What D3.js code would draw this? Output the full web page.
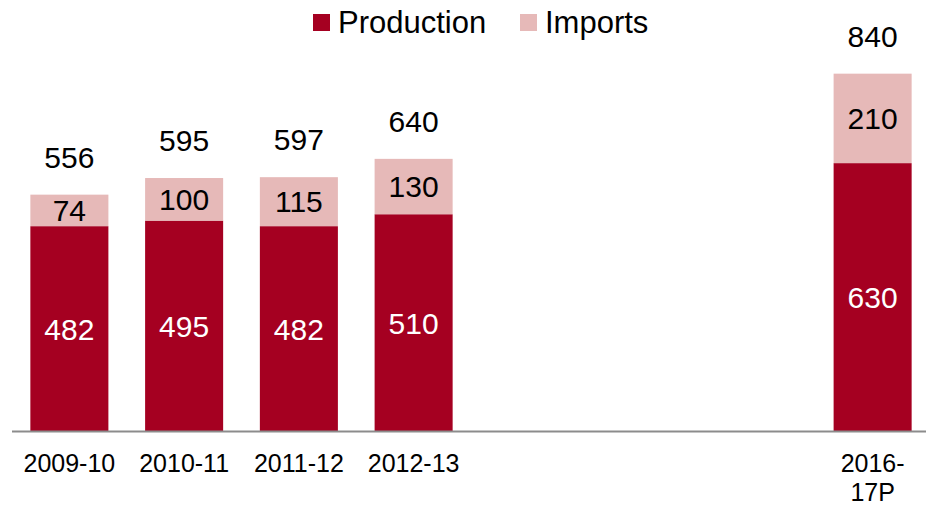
<!DOCTYPE html>
<html>
<head>
<meta charset="utf-8">
<script src="https://cdn.jsdelivr.net/npm/d3@7"></script>
<style>
  body { margin: 0; background: #fff; }
  svg { display: block; font-family: "Liberation Sans", Arial, sans-serif; }
</style>
</head>
<body>
<svg class="chart"></svg>
<script>
// categories (the three middle years are empty slots on the axis)
var categories = ["2009-10", "2010-11", "2011-12", "2012-13", "2013-14", "2014-15", "2015-16", "2016-17P"];
var tickLabels = [["2009-10"], ["2010-11"], ["2011-12"], ["2012-13"], [], [], [], ["2016-", "17P"]];
var production = [482, 495, 482, 510, null, null, null, 630];
var imports = [74, 100, 115, 130, null, null, null, 210];
var totals = [556, 595, 597, 640, null, null, null, 840];

var seriesNames = ["Production", "Imports"];
var colors = {Production: "#A50021", Imports: "#E6B9B8"};

var width = 926, height = 505;

var svg = d3.select(".chart")
    .attr("width", width)
    .attr("height", height);

var x = d3.scaleBand()
    .domain(categories)
    .range([12, 930])
    .paddingInner(0.32)
    .paddingOuter(0.16);

var y = d3.scaleLinear()
    .domain([0, 1000])
    .range([431.5, 5.5]);

// rows for the stack, skipping empty slots
var rows = categories.map(function(c, i) {
    return {cat: c, Production: production[i], Imports: imports[i], total: totals[i]};
}).filter(function(d) { return d.Production != null; });

var stack = d3.stack().keys(seriesNames);
var layers = stack(rows);

var layer = svg.selectAll(".layer")
    .data(layers).enter().append("g")
    .attr("class", "layer")
    .attr("fill", function(d) { return colors[d.key]; });

layer.selectAll("rect")
    .data(function(d) { return d; }).enter().append("rect")
    .attr("x", function(d) { return x(d.data.cat); })
    .attr("width", x.bandwidth())
    .attr("y", function(d) { return y(d[1]); })
    .attr("height", function(d) { return y(d[0]) - y(d[1]); });

// values inside the segments
layer.selectAll("text")
    .data(function(d) { return d.map(function(s) { s.key = d.key; return s; }); })
    .enter().append("text")
    .attr("x", function(d) { return x(d.data.cat) + x.bandwidth() / 2; })
    .attr("y", function(d) { return (y(d[0]) + y(d[1])) / 2; })
    .attr("dy", "0.36em")
    .attr("text-anchor", "middle")
    .attr("font-size", 30)
    .attr("fill", function(d) { return d.key === "Production" ? "#fff" : "#000"; })
    .text(function(d) { return d.data[d.key]; });

// totals above
svg.selectAll(".total")
    .data(rows).enter().append("text")
    .attr("class", "total")
    .attr("x", function(d) { return x(d.cat) + x.bandwidth() / 2; })
    .attr("y", function(d) { return y(d.total) - 27; })
    .attr("text-anchor", "middle")
    .attr("font-size", 30)
    .attr("fill", "#000")
    .text(function(d) { return d.total; });

// x axis
var xAxis = d3.axisBottom(x).tickSize(0).tickFormat("");
var gx = svg.append("g")
    .attr("transform", "translate(0," + y(0) + ")")
    .call(xAxis);
gx.select(".domain").attr("stroke", "#8c8c8c").attr("stroke-width", 2)
    .attr("d", "M12,0H926");

gx.selectAll(".tick").each(function(c, i) {
    var t = d3.select(this).append("text")
        .attr("fill", "#000")
        .attr("font-size", 25)
        .attr("text-anchor", "middle")
        .attr("y", 40);
    tickLabels[i].forEach(function(line, j) {
        t.append("tspan").attr("x", 0).attr("dy", j === 0 ? 0 : 29).text(line);
    });
});

// legend
var legendX = [313, 520];
var legend = svg.selectAll(".legend")
    .data(seriesNames).enter().append("g")
    .attr("class", "legend")
    .attr("transform", function(d, i) { return "translate(" + legendX[i] + ",0)"; });

legend.append("rect")
    .attr("y", 14)
    .attr("width", 17)
    .attr("height", 17)
    .attr("fill", function(d) { return colors[d]; });

legend.append("text")
    .attr("x", 25)
    .attr("y", 33)
    .attr("font-size", 31)
    .attr("fill", "#000")
    .text(function(d) { return d; });
</script>
</body>
</html>
